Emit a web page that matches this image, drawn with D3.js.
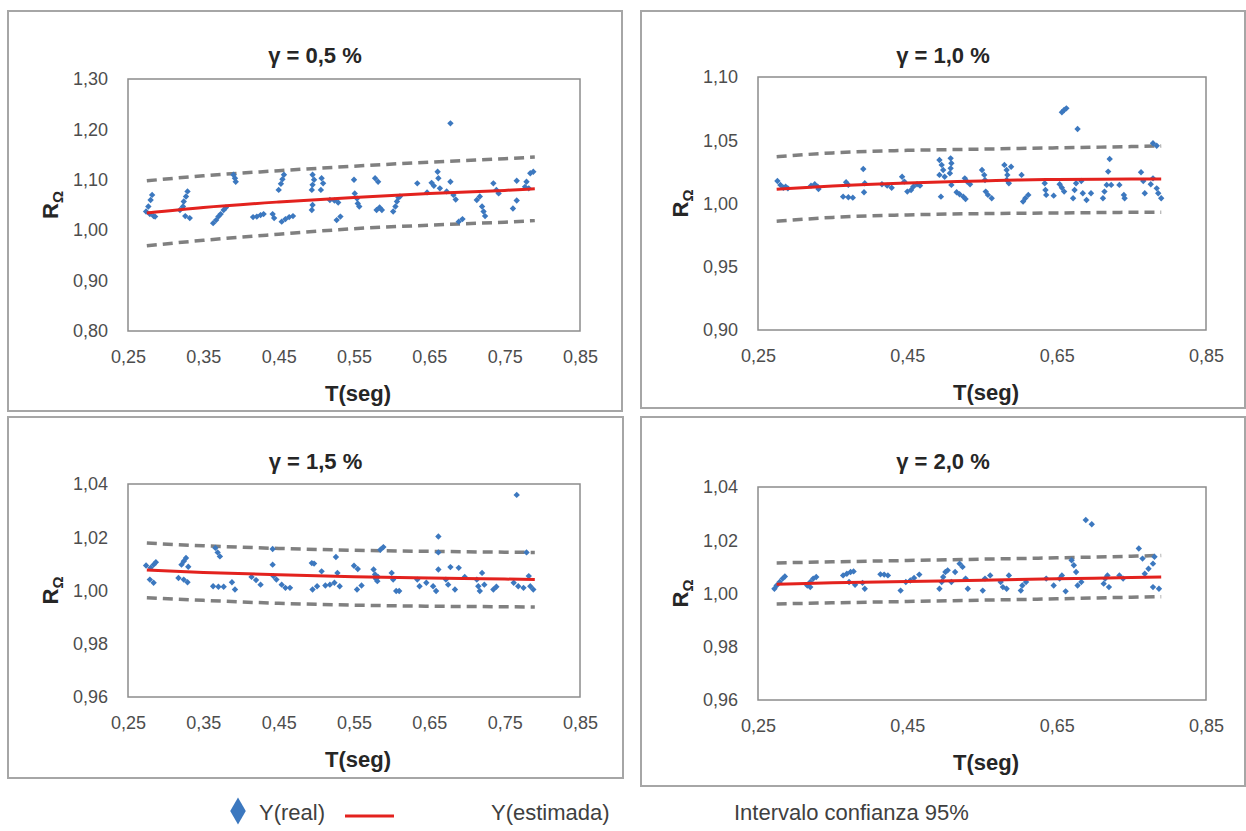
<!DOCTYPE html>
<html>
<head>
<meta charset="utf-8">
<script src="https://cdn.jsdelivr.net/npm/d3@7"></script>
<style>
  body { margin: 0; background: #fff; }
  svg { display: block; font-family: 'Liberation Sans', Arial, sans-serif; }
</style>
</head>
<body>
<script>
// panel titles and axis ticks
const titles = ['γ = 0,5 %', 'γ = 1,0 %', 'γ = 1,5 %', 'γ = 2,0 %'];
const xTicksFine = [0.25, 0.35, 0.45, 0.55, 0.65, 0.75, 0.85];
const xTicksCoarse = [0.25, 0.45, 0.65, 0.85];
const yTicks05 = [0.80, 0.90, 1.00, 1.10, 1.20, 1.30];
const yTicks10 = [0.90, 0.95, 1.00, 1.05, 1.10];
const yTicks15 = [0.96, 0.98, 1.00, 1.02, 1.04];
const yTicks20 = [0.96, 0.98, 1.00, 1.02, 1.04];

// Y(real) points
const t05 = [0.282,0.280,0.277,0.274,0.279,0.284,0.286,0.329,0.327,0.324,0.323,0.319,0.326,0.332,
  0.363,0.367,0.370,0.373,0.377,0.380,0.390,0.392,0.393,0.416,0.421,0.426,0.430,0.442,0.444,
  0.454,0.459,0.464,0.469,0.457,0.455,0.453,0.450,0.495,0.497,0.495,0.494,0.495,0.494,0.507,0.509,0.506,
  0.518,0.524,0.529,0.532,0.527,0.550,0.551,0.554,0.555,0.557,0.578,0.582,0.580,0.587,0.584,
  0.602,0.605,0.607,0.609,0.611,0.634,0.647,0.653,0.656,0.661,0.662,0.664,0.673,0.678,0.678,
  0.682,0.685,0.689,0.694,0.713,0.717,0.720,0.722,0.724,0.735,0.739,0.742,
  0.761,0.766,0.766,0.777,0.779,0.782,0.784,0.788];
const r05 = [1.070,1.060,1.047,1.037,1.032,1.028,1.027,1.077,1.067,1.057,1.047,1.040,1.028,1.024,
  1.014,1.020,1.027,1.032,1.040,1.045,1.110,1.103,1.096,1.026,1.027,1.030,1.032,1.032,1.024,
  1.017,1.022,1.026,1.028,1.110,1.101,1.092,1.080,1.110,1.100,1.090,1.080,1.050,1.040,1.103,1.093,1.080,
  1.060,1.059,1.055,1.027,1.020,1.100,1.073,1.063,1.053,1.047,1.103,1.096,1.040,1.040,1.045,
  1.037,1.047,1.057,1.065,1.067,1.093,1.075,1.094,1.088,1.116,1.103,1.083,1.077,1.096,1.212,
  1.070,1.061,1.017,1.022,1.060,1.067,1.047,1.037,1.028,1.093,1.080,1.073,
  1.043,1.059,1.098,1.086,1.096,1.083,1.113,1.116];

const t10 = [0.276,0.280,0.284,0.287,0.290,0.321,0.326,0.330,0.331,0.368,0.371,0.364,0.371,0.377,
  0.391,0.393,0.392,0.416,0.423,0.429,0.443,0.446,0.450,0.455,0.458,0.463,0.467,
  0.493,0.496,0.498,0.493,0.500,0.495,0.508,0.509,0.508,0.507,0.509,0.516,0.520,0.525,0.528,
  0.527,0.530,0.534,0.550,0.553,0.554,0.555,0.558,0.563,0.580,0.583,0.584,0.583,0.586,0.589,0.603,
  0.605,0.608,0.612,0.634,0.635,0.636,0.646,0.654,0.657,0.660,0.657,0.660,0.663,0.678,
  0.672,0.674,0.676,0.683,0.685,0.690,0.696,0.712,0.714,0.717,0.719,0.721,0.723,0.734,0.740,0.741,
  0.763,0.766,0.768,0.776,0.779,0.784,0.786,0.790,0.779,0.784];
const r10 = [1.0178,1.0147,1.0125,1.0133,1.0120,1.0141,1.0152,1.0133,1.0115,1.0168,1.0147,1.0054,1.0049,1.0046,
  1.0273,1.0160,1.0089,1.0152,1.0141,1.0125,1.0212,1.0173,1.0094,1.0107,1.0133,1.0152,1.0141,
  1.0344,1.0305,1.0265,1.0226,1.0212,1.0054,1.0357,1.0318,1.0278,1.0239,1.0147,1.0089,1.0073,1.0054,1.0036,
  1.0199,1.0173,1.0152,1.0265,1.0226,1.0186,1.0094,1.0068,1.0041,1.0305,1.0265,1.0226,1.0186,1.0160,1.0291,1.0226,
  1.0015,1.0041,1.0068,1.0160,1.0107,1.0068,1.0062,1.0152,1.0125,1.0094,1.0721,1.0739,1.0752,1.0589,
  1.0041,1.0107,1.0160,1.0178,1.0081,1.0028,1.0081,1.0041,1.0094,1.0147,1.0252,1.0352,1.0147,1.0147,1.0068,1.0041,
  1.0247,1.0178,1.0081,1.0152,1.0199,1.0120,1.0081,1.0041,1.0476,1.0457];

const t15 = [0.274,0.280,0.284,0.287,0.279,0.284,0.321,0.324,0.327,0.330,0.317,0.324,0.329,
  0.366,0.369,0.372,0.363,0.370,0.377,0.388,0.392,0.414,0.420,0.426,
  0.442,0.442,0.443,0.447,0.454,0.459,0.465,0.494,0.497,0.495,0.501,0.507,0.512,0.518,0.524,0.526,0.528,0.531,
  0.550,0.555,0.554,0.560,0.576,0.578,0.579,0.581,0.582,0.585,0.589,0.600,0.602,0.606,0.610,
  0.634,0.637,0.646,0.655,0.659,0.662,0.662,0.662,0.672,0.675,0.678,0.684,0.689,0.697,
  0.713,0.715,0.720,0.717,0.723,0.735,0.739,0.766,0.762,0.768,0.775,0.779,0.782,0.784,0.788];
const r15 = [1.0094,1.0085,1.0097,1.0106,1.0041,1.0029,1.0097,1.0110,1.0122,1.0089,1.0047,1.0041,1.0031,
  1.0160,1.0143,1.0128,1.0016,1.0014,1.0014,1.0031,1.0004,1.0051,1.0039,1.0022,
  1.0156,1.0097,1.0054,1.0041,1.0022,1.0010,1.0010,1.0103,1.0101,1.0004,1.0016,1.0072,1.0019,1.0022,1.0029,1.0126,1.0066,1.0016,
  1.0093,1.0081,1.0004,1.0019,1.0079,1.0060,1.0044,1.0035,1.0051,1.0153,1.0163,1.0066,1.0041,0.9998,0.9998,
  1.0041,1.0016,1.0029,1.0016,0.9998,1.0203,1.0143,1.0079,1.0041,1.0022,1.0088,1.0004,1.0085,1.0051,
  1.0041,1.0016,1.0066,0.9998,1.0022,1.0004,1.0014,1.0359,1.0029,1.0016,1.0010,1.0143,1.0054,1.0016,1.0004];

const t20 = [0.272,0.275,0.279,0.283,0.286,0.316,0.320,0.324,0.328,0.320,
  0.364,0.369,0.374,0.378,0.372,0.380,0.390,0.393,0.414,0.419,0.424,0.441,0.448,0.454,0.459,0.466,
  0.493,0.496,0.498,0.501,0.504,0.509,0.514,0.520,0.524,0.528,0.531,
  0.551,0.554,0.561,0.575,0.578,0.583,0.586,0.602,0.604,0.609,
  0.636,0.646,0.654,0.657,0.662,0.670,0.673,0.676,0.678,0.683,0.689,0.697,
  0.713,0.715,0.718,0.720,0.734,0.739,0.760,0.765,0.768,0.773,0.779,0.781,0.779,0.787];
const r20 = [1.0018,1.0030,1.0043,1.0056,1.0064,1.0030,1.0043,1.0056,1.0062,1.0024,
  1.0068,1.0074,1.0081,1.0083,1.0043,1.0033,1.0040,1.0018,1.0072,1.0071,1.0068,1.0011,1.0043,1.0049,1.0058,1.0071,
  1.0018,1.0043,1.0062,1.0081,1.0087,1.0043,1.0081,1.0112,1.0100,1.0056,1.0018,
  1.0011,1.0056,1.0068,1.0043,1.0024,1.0018,1.0068,1.0011,1.0030,1.0043,
  1.0056,1.0030,1.0056,1.0068,1.0008,1.0125,1.0106,1.0081,1.0030,1.0043,1.0276,1.0260,
  1.0037,1.0056,1.0068,1.0024,1.0068,1.0056,1.0169,1.0131,1.0074,1.0093,1.0112,1.0138,1.0024,1.0018];

// Y(estimada) and 95% band
const fitT = [0.275, 0.35, 0.45, 0.55, 0.65, 0.75, 0.79];
const fit05 = [1.034, 1.045, 1.056, 1.065, 1.073, 1.079, 1.082];
const hi05 = [1.098, 1.108, 1.118, 1.127, 1.135, 1.142, 1.145];
const lo05 = [0.969, 0.980, 0.992, 1.003, 1.010, 1.016, 1.019];

const fitT10 = [0.275, 0.35, 0.45, 0.55, 0.60, 0.65, 0.75, 0.79];
const fit10 = [1.0112, 1.0138, 1.0162, 1.0178, 1.0186, 1.0190, 1.0193, 1.0194];
const hi10 = [1.0370, 1.0400, 1.0420, 1.0430, 1.0435, 1.0440, 1.0450, 1.0455];
const lo10 = [0.9860, 0.9890, 0.9910, 0.9920, 0.9923, 0.9925, 0.9930, 0.9930];

const fit15 = [1.0077, 1.0068, 1.0059, 1.0052, 1.0047, 1.0043, 1.0041];
const hi15 = [1.0178, 1.0168, 1.0158, 1.0151, 1.0147, 1.0144, 1.0143];
const lo15 = [0.9973, 0.9963, 0.9952, 0.9945, 0.9941, 0.9939, 0.9938];

const fit20 = [1.0035, 1.0040, 1.0045, 1.0050, 1.0055, 1.0060, 1.0062];
const hi20 = [1.0115, 1.0119, 1.0124, 1.0129, 1.0134, 1.0140, 1.0143];
const lo20 = [0.9961, 0.9965, 0.9970, 0.9975, 0.9980, 0.9986, 0.9988];

const legendLabels = ['Y(real)', 'Y(estimada)', 'Intervalo confianza 95%'];

// layout of each panel: outer frame + plot area
const panels = [
  { title: titles[0], frame: [8, 11, 622, 411], plot: [128, 79, 580, 331],
    xTicks: xTicksFine, yTicks: yTicks05, t: t05, r: r05, ft: fitT, fit: fit05, hi: hi05, lo: lo05 },
  { title: titles[1], frame: [641, 11, 1245, 408], plot: [758, 77, 1206, 330],
    xTicks: xTicksCoarse, yTicks: yTicks10, t: t10, r: r10, ft: fitT10, fit: fit10, hi: hi10, lo: lo10 },
  { title: titles[2], frame: [8, 417, 623, 778], plot: [128, 484, 580, 697],
    xTicks: xTicksFine, yTicks: yTicks15, t: t15, r: r15, ft: fitT, fit: fit15, hi: hi15, lo: lo15 },
  { title: titles[3], frame: [641, 417, 1245, 786], plot: [758, 487, 1206, 700],
    xTicks: xTicksCoarse, yTicks: yTicks20, t: t20, r: r20, ft: fitT, fit: fit20, hi: hi20, lo: lo20 },
];

const BLUE = '#3c78bf';
const RED = '#e3221e';
const GREY = '#808080';
const fmt = (d) => d3.format('.2f')(d).replace('.', ',');
// squat diamond for the markers (fall back if this d3 build lacks it)
const markerType = d3.symbolDiamond2 || d3.symbolDiamond;

const svg = d3.select('body')
  .append('svg')
  .attr('width', 1246)
  .attr('height', 831);

function drawPanel(p) {
  const [fx0, fy0, fx1, fy1] = p.frame;
  const [x0, y0, x1, y1] = p.plot;
  const g = svg.append('g');

  g.append('rect')
    .attr('x', fx0).attr('y', fy0)
    .attr('width', fx1 - fx0).attr('height', fy1 - fy0)
    .attr('fill', 'none').attr('stroke', '#a6a6a6').attr('stroke-width', 2);

  const x = d3.scaleLinear().domain([0.25, 0.85]).range([x0, x1]);
  const y = d3.scaleLinear()
    .domain([p.yTicks[0], p.yTicks[p.yTicks.length - 1]])
    .range([y1, y0]);

  // axes, no tick marks, just labels
  const xAxis = g.append('g')
    .attr('transform', `translate(0,${y1})`)
    .call(d3.axisBottom(x).tickValues(p.xTicks).tickFormat(fmt).tickSize(0).tickPadding(19));
  const yAxis = g.append('g')
    .attr('transform', `translate(${x0},0)`)
    .call(d3.axisLeft(y).tickValues(p.yTicks).tickFormat(fmt).tickSize(0).tickPadding(20));
  [xAxis, yAxis].forEach((a) => {
    a.select('.domain').remove();
    a.selectAll('text')
      .attr('font-family', "'Liberation Sans', Arial, sans-serif")
      .attr('font-size', 18)
      .attr('fill', '#4d4d4d');
  });

  g.append('rect')
    .attr('x', x0).attr('y', y0)
    .attr('width', x1 - x0).attr('height', y1 - y0)
    .attr('fill', 'none').attr('stroke', '#8c8c8c').attr('stroke-width', 1.5);

  const line = d3.line()
    .x((d) => x(d[0]))
    .y((d) => y(d[1]))
    .curve(d3.curveMonotoneX);

  [p.hi, p.lo].forEach((band) => {
    g.append('path')
      .datum(p.ft.map((t, i) => [t, band[i]]))
      .attr('d', line)
      .attr('fill', 'none')
      .attr('stroke', GREY)
      .attr('stroke-width', 3.5)
      .attr('stroke-dasharray', '10,6');
  });

  const pts = p.t.map((t, i) => [t, p.r[i]]);
  g.selectAll('path.pt')
    .data(pts)
    .join('path')
    .attr('class', 'pt')
    .attr('d', d3.symbol(markerType, 26))
    .attr('transform', (d) => `translate(${x(d[0])},${y(d[1])})`)
    .attr('fill', BLUE);

  g.append('path')
    .datum(p.ft.map((t, i) => [t, p.fit[i]]))
    .attr('d', line)
    .attr('fill', 'none')
    .attr('stroke', RED)
    .attr('stroke-width', 3);

  // titles
  g.append('text')
    .attr('x', (fx0 + fx1) / 2).attr('y', fy0 + 52)
    .attr('text-anchor', 'middle')
    .attr('font-size', 22).attr('font-weight', 'bold')
    .attr('fill', '#262626')
    .text(p.title);

  g.append('text')
    .attr('x', (x0 + x1) / 2 + 4).attr('y', y1 + 70)
    .attr('text-anchor', 'middle')
    .attr('font-size', 22).attr('font-weight', 'bold')
    .attr('fill', '#262626')
    .text('T(seg)');

  const yl = g.append('text')
    .attr('transform', `translate(${x0 - 70},${(y0 + y1) / 2}) rotate(-90)`)
    .attr('text-anchor', 'middle')
    .attr('font-size', 22).attr('font-weight', 'bold')
    .attr('fill', '#262626');
  yl.append('tspan').text('R');
  yl.append('tspan').attr('font-size', 15).attr('dy', 5).text('Ω');
}

panels.forEach(drawPanel);

// legend
const lg = svg.append('g')
  .attr('font-size', 22)
  .attr('fill', '#404040');
lg.append('path')
  .attr('d', d3.symbol(d3.symbolDiamond, 210))
  .attr('transform', 'translate(238,811)')
  .attr('fill', BLUE);
lg.append('text').attr('x', 259).attr('y', 820).text(legendLabels[0]);
lg.append('line')
  .attr('x1', 345).attr('x2', 394)
  .attr('y1', 816).attr('y2', 816)
  .attr('stroke', RED).attr('stroke-width', 3);
lg.append('text').attr('x', 491).attr('y', 820).text(legendLabels[1]);
lg.append('text').attr('x', 734).attr('y', 820).text(legendLabels[2]);
</script>
</body>
</html>
